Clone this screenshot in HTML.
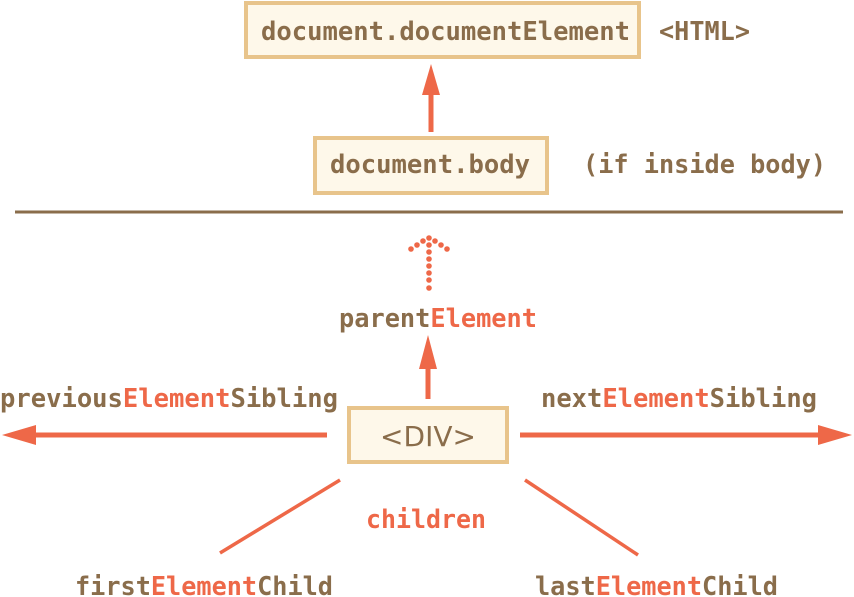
<!DOCTYPE html>
<html><head><meta charset="utf-8"><style>
html,body{margin:0;padding:0;background:#fff;}
svg{display:block;}
text{font-family:"DejaVu Sans Mono","Liberation Mono",monospace;font-weight:bold;font-size:26px;fill:#8a6d4b;}
.o{fill:#ee6848;}
</style></head><body>
<svg width="854" height="597" viewBox="0 0 854 597" xmlns="http://www.w3.org/2000/svg">
<rect x="246" y="3" width="393" height="54" fill="#fef8ea" stroke="#e8c48b" stroke-width="4"/>
<text x="261" y="40" textLength="369" lengthAdjust="spacingAndGlyphs">document.documentElement</text>
<text x="659" y="40" textLength="91" lengthAdjust="spacingAndGlyphs">&lt;HTML&gt;</text>
<line x1="431" y1="132" x2="431" y2="93" stroke="#ee6848" stroke-width="5"/>
<polygon points="431,64 422,95 440,95" fill="#ee6848"/>
<rect x="315" y="138" width="232" height="55" fill="#fef8ea" stroke="#e8c48b" stroke-width="4"/>
<text x="330" y="173" textLength="200" lengthAdjust="spacingAndGlyphs">document.body</text>
<text x="583" y="173" textLength="243" lengthAdjust="spacingAndGlyphs">(if inside body)</text>
<line x1="15" y1="212" x2="843" y2="212" stroke="#8a6d4b" stroke-width="3"/>
<g fill="#ee6848">
<circle cx="429" cy="238" r="2.8"/>
<circle cx="429" cy="245" r="2.8"/><circle cx="429" cy="252" r="2.8"/><circle cx="429" cy="259" r="2.8"/>
<circle cx="429" cy="266" r="2.8"/><circle cx="429" cy="273" r="2.8"/><circle cx="429" cy="280" r="2.8"/><circle cx="429" cy="288" r="2.8"/>
<circle cx="423" cy="241" r="2.8"/><circle cx="417" cy="245" r="2.8"/><circle cx="411" cy="249" r="2.8"/>
<circle cx="435" cy="241" r="2.8"/><circle cx="441" cy="245" r="2.8"/><circle cx="447" cy="249" r="2.8"/>
</g>
<text x="339" y="327" textLength="198" lengthAdjust="spacingAndGlyphs">parent<tspan class="o">Element</tspan></text>
<line x1="428" y1="399" x2="428" y2="366" stroke="#ee6848" stroke-width="5"/>
<polygon points="428,335 419,369 437,369" fill="#ee6848"/>
<text x="0" y="407" textLength="338" lengthAdjust="spacingAndGlyphs">previous<tspan class="o">Element</tspan>Sibling</text>
<text x="541" y="407" textLength="276" lengthAdjust="spacingAndGlyphs">next<tspan class="o">Element</tspan>Sibling</text>
<rect x="349" y="408" width="158" height="54" fill="#fef8ea" stroke="#e8c48b" stroke-width="4"/>
<text x="428" y="446" text-anchor="middle" style="font-family:'DejaVu Sans','Liberation Sans',sans-serif;font-weight:normal;font-size:28px;">&lt;DIV&gt;</text>
<line x1="327" y1="435" x2="32" y2="435" stroke="#ee6848" stroke-width="5"/>
<polygon points="2,435 36,425 36,445" fill="#ee6848"/>
<line x1="520" y1="435" x2="822" y2="435" stroke="#ee6848" stroke-width="5"/>
<polygon points="852,435 818,425 818,445" fill="#ee6848"/>
<line x1="340" y1="480" x2="220" y2="553" stroke="#ee6848" stroke-width="3.5"/>
<line x1="525" y1="480" x2="638" y2="555" stroke="#ee6848" stroke-width="3.5"/>
<text x="366" y="528" class="o" textLength="120" lengthAdjust="spacingAndGlyphs">children</text>
<text x="75" y="595" textLength="258" lengthAdjust="spacingAndGlyphs">first<tspan class="o">Element</tspan>Child</text>
<text x="535" y="595" textLength="243" lengthAdjust="spacingAndGlyphs">last<tspan class="o">Element</tspan>Child</text>
</svg>
</body></html>
